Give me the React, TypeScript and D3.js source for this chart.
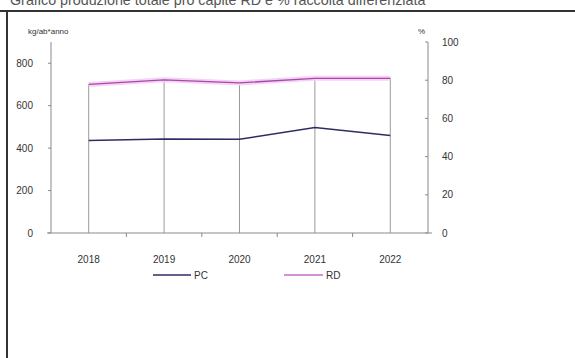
import React from "react";
import * as d3 from "d3";

const years = ["2018", "2019", "2020", "2021", "2022"];
const pcValues = [436, 443, 442, 497, 459];
const rdValues = [77.8, 80.2, 78.6, 81.0, 81.0];
const leftTicks = [0, 200, 400, 600, 800];
const rightTicks = [0, 20, 40, 60, 80, 100];
const title = "Grafico produzione totale pro capite RD e % raccolta differenziata";

const W = 575;
const H = 358;
const left = 51;
const right = 428;
const top = 42;
const bottom = 233;

export default function App() {
  const x = d3.scaleBand<string>().domain(years).range([left, right]);
  const yL = d3.scaleLinear().domain([0, 900]).range([bottom, top]);
  const yR = d3.scaleLinear().domain([0, 100]).range([bottom, top]);
  const cx = (y: string) => (x(y) as number) + x.bandwidth() / 2;

  const pcLine = d3
    .line<number>()
    .x((_, i) => cx(years[i]))
    .y((d) => yL(d));
  const rdLine = d3
    .line<number>()
    .x((_, i) => cx(years[i]))
    .y((d) => yR(d));

  const font = "Liberation Sans, Arial, sans-serif";
  const txt = "#333";
  const axisCol = "#8a8a8a";

  return (
    <svg
      width={W}
      height={H}
      style={{ position: "absolute", left: 0, top: 0, background: "#fff" }}
      fontFamily={font}
    >
      <rect width={W} height={H} fill="#fff" />
      <text x={10} y={5} fontSize={14.3} fill="#555">
        {title}
      </text>
      <line x1={0} x2={W} y1={11} y2={11} stroke="#333" strokeWidth={2} />
      <line x1={7} x2={7} y1={11} y2={H} stroke="#333" strokeWidth={2} />

      {/* axis titles */}
      <text x={28} y={34} fontSize={8} fill={txt}>
        kg/ab*anno
      </text>
      <text x={418} y={34} fontSize={8} fill={txt}>
        %
      </text>

      {/* drop lines */}
      {years.map((yr, i) => {
        const yTop = Math.min(yL(pcValues[i]), yR(rdValues[i]));
        return (
          <line
            key={"d" + yr}
            x1={cx(yr)}
            x2={cx(yr)}
            y1={yTop}
            y2={bottom}
            stroke="#9a9a9a"
            strokeWidth={1}
          />
        );
      })}

      {/* left axis */}
      <line x1={left} x2={left} y1={top} y2={bottom} stroke={axisCol} />
      {leftTicks.map((t) => (
        <g key={"l" + t}>
          <line x1={left - 3} x2={left} y1={yL(t)} y2={yL(t)} stroke={axisCol} />
          <text
            x={left - 18}
            y={yL(t)}
            dy="0.35em"
            textAnchor="end"
            fontSize={10}
            fill={txt}
          >
            {t}
          </text>
        </g>
      ))}

      {/* right axis */}
      <line x1={right} x2={right} y1={top} y2={bottom} stroke={axisCol} />
      {rightTicks.map((t) => (
        <g key={"r" + t}>
          <line x1={right - 3} x2={right} y1={yR(t)} y2={yR(t)} stroke={axisCol} />
          <text x={right + 14} y={yR(t)} dy="0.35em" fontSize={10} fill={txt}>
            {t}
          </text>
        </g>
      ))}

      {/* x axis */}
      <line x1={left - 4} x2={right + 4} y1={bottom} y2={bottom} stroke={axisCol} />
      {years.slice(1).map((yr) => (
        <line
          key={"t" + yr}
          x1={x(yr) as number}
          x2={x(yr) as number}
          y1={bottom}
          y2={bottom + 4}
          stroke={axisCol}
        />
      ))}
      {years.map((yr) => (
        <text
          key={"x" + yr}
          x={cx(yr)}
          y={263}
          textAnchor="middle"
          fontSize={10}
          fill={txt}
        >
          {yr}
        </text>
      ))}

      {/* lines */}
      <path d={rdLine(rdValues) || ""} fill="none" stroke="#f6d2f6" strokeWidth={5} />
      <path d={rdLine(rdValues) || ""} fill="none" stroke="#a848a8" strokeWidth={1.3} />
      <path d={pcLine(pcValues) || ""} fill="none" stroke="#2c2c66" strokeWidth={1.5} />

      {/* legend */}
      <line x1={153} x2={191} y1={275} y2={275} stroke="#2c2c66" strokeWidth={1.3} />
      <text x={194} y={279} fontSize={10} fill={txt}>
        PC
      </text>
      <line x1={284} x2={323} y1={275} y2={275} stroke="#c070c0" strokeWidth={1.3} />
      <text x={326} y={279} fontSize={10} fill={txt}>
        RD
      </text>
    </svg>
  );
}
